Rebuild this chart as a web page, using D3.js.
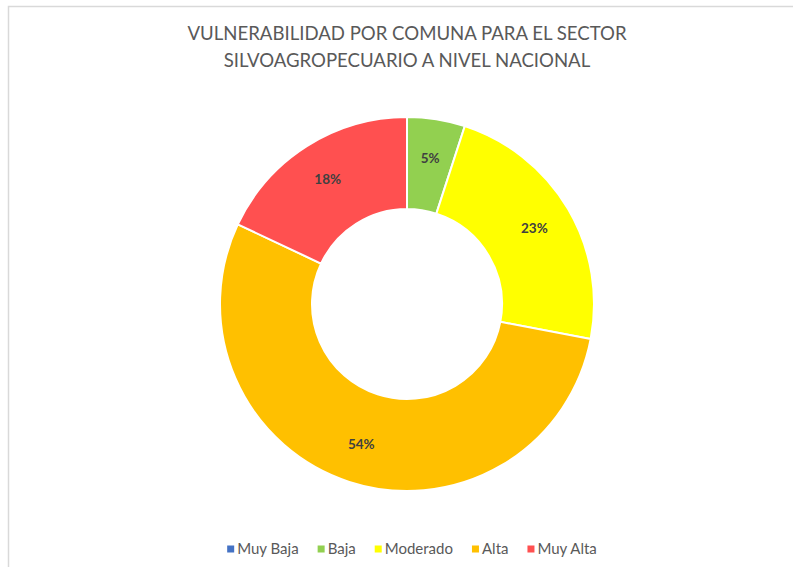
<!DOCTYPE html>
<html>
<head>
<meta charset="utf-8">
<script src="https://cdn.jsdelivr.net/npm/d3@7"></script>
<style>
  body { margin: 0; background: #fff; }
  text { font-family: Lato, "Open Sans", sans-serif; }
</style>
</head>
<body>
<div id="chart"></div>
<script>
var categories = ["Muy Baja", "Baja", "Moderado", "Alta", "Muy Alta"];
var values = [0, 5, 23, 54, 18];
var colors = ["#4472c4", "#92d050", "#ffff00", "#ffc000", "#ff5050"];
var titleLines = ["VULNERABILIDAD POR COMUNA PARA EL SECTOR", "SILVOAGROPECUARIO A NIVEL NACIONAL"];

var width = 793,
    height = 567,
    cx = 407,
    cy = 304,
    outerR = 187,
    innerR = 95;

var svg = d3.select("#chart").append("svg")
    .attr("width", width)
    .attr("height", height);

// thin frame, only top and left visible
svg.append("rect")
    .attr("x", 8.5)
    .attr("y", 6.5)
    .attr("width", width)
    .attr("height", height)
    .attr("fill", "#fff")
    .attr("stroke", "#d9d9d9")
    .attr("stroke-width", 1.5);

svg.selectAll(".title")
    .data(titleLines)
    .enter().append("text")
    .attr("class", "title")
    .attr("x", cx)
    .attr("y", function(d, i) { return 33 + i * 27; })
    .attr("dy", ".35em")
    .attr("text-anchor", "middle")
    .attr("fill", "#595959")
    .style("font-size", "18.6px")
    .text(function(d) { return d; });

var color = d3.scaleOrdinal().domain(categories).range(colors);

var pie = d3.pie()
    .sort(null)
    .value(function(d) { return d.value; });

var data = categories.map(function(c, i) { return { name: c, value: values[i] }; });
var arcs = pie(data);

var arc = d3.arc().innerRadius(innerR).outerRadius(outerR);
var labelArc = d3.arc().innerRadius(148).outerRadius(148);

var g = svg.append("g").attr("transform", "translate(" + cx + "," + cy + ")");

g.selectAll("path")
    .data(arcs)
    .enter().append("path")
    .attr("d", arc)
    .attr("fill", function(d) { return color(d.data.name); })
    .attr("stroke", "#fff")
    .attr("stroke-width", 2);

g.selectAll(".lbl")
    .data(arcs.filter(function(d) { return d.data.value > 0; }))
    .enter().append("text")
    .attr("class", "lbl")
    .attr("transform", function(d) { return "translate(" + labelArc.centroid(d) + ")"; })
    .attr("dy", ".35em")
    .attr("text-anchor", "middle")
    .attr("fill", "#404040")
    .style("font-size", "13.5px")
    .style("font-weight", "bold")
    .text(function(d) { return d.data.value + "%"; });

// legend
var legend = svg.append("g");
var items = legend.selectAll(".legend")
    .data(categories)
    .enter().append("g")
    .attr("class", "legend");

items.append("rect")
    .attr("width", 7)
    .attr("height", 7)
    .attr("y", -3.5)
    .attr("fill", function(d) { return color(d); });

items.append("text")
    .attr("x", 10)
    .attr("dy", ".35em")
    .attr("fill", "#595959")
    .style("font-size", "15px")
    .text(function(d) { return d; });

var xPos = 0;
items.each(function() {
    var w = this.getBBox().width;
    d3.select(this).attr("transform", "translate(" + xPos + ",0)");
    xPos += w + 19;
});
xPos -= 19;
legend.attr("transform", "translate(" + (cx + 5 - xPos / 2) + ",549)");
</script>
</body>
</html>
